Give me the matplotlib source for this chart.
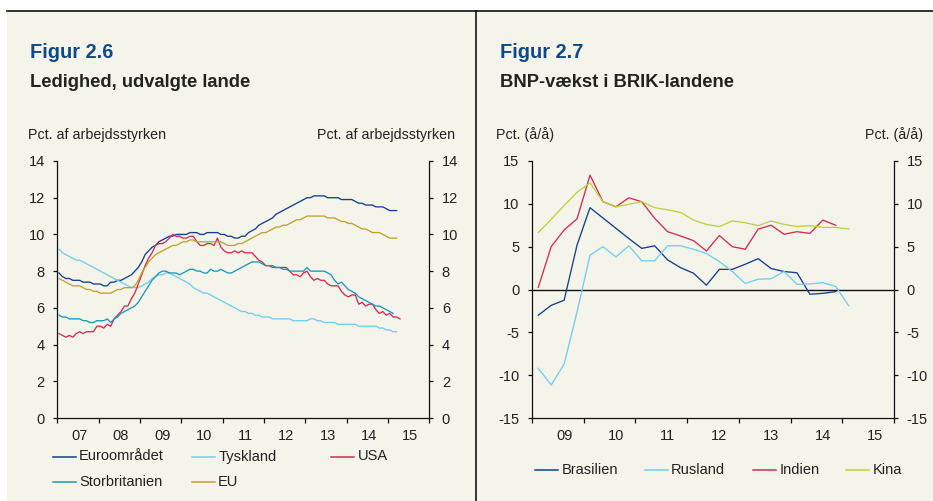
import matplotlib
matplotlib.use('Agg')
import matplotlib.pyplot as plt
from matplotlib.lines import Line2D
from matplotlib.patches import Rectangle

plt.rcParams['font.family'] = ['Liberation Sans', 'DejaVu Sans']
plt.rcParams['axes.unicode_minus'] = False

W, H = 933, 501
BG = '#f4f4ea'
TXT = '#222222'


def px(x):
    return x / W


def py(y):
    return 1 - y / H


# ---- Figur 2.6: ledighed, maanedlig fra jan 2007 ----
euro = [7.9, 7.7, 7.6, 7.6, 7.5, 7.5, 7.5, 7.4, 7.4, 7.4, 7.3, 7.3,
        7.3, 7.2, 7.2, 7.4, 7.4, 7.5, 7.5, 7.6, 7.7, 7.8, 8.0, 8.2,
        8.5, 8.9, 9.1, 9.3, 9.4, 9.6, 9.7, 9.8, 9.9, 9.9, 10.0, 10.0,
        10.0, 10.0, 10.1, 10.1, 10.1, 10.0, 10.0, 10.1, 10.1, 10.1, 10.1, 10.0,
        10.0, 9.9, 9.9, 9.8, 9.8, 9.9, 9.9, 10.1, 10.2, 10.3, 10.5, 10.6,
        10.7, 10.8, 10.9, 11.1, 11.2, 11.3, 11.4, 11.5, 11.6, 11.7, 11.8, 11.9,
        12.0, 12.0, 12.1, 12.1, 12.1, 12.1, 12.0, 12.0, 12.0, 12.0, 11.9, 11.9,
        11.9, 11.9, 11.8, 11.7, 11.7, 11.6, 11.6, 11.6, 11.5, 11.5, 11.5, 11.4,
        11.3, 11.3, 11.3]
tyskland = [9.2, 9.0, 8.9, 8.8, 8.7, 8.6, 8.6, 8.5, 8.4, 8.3, 8.2, 8.1,
            8.0, 7.9, 7.8, 7.7, 7.6, 7.5, 7.4, 7.3, 7.2, 7.1, 7.1, 7.1,
            7.2, 7.3, 7.4, 7.6, 7.7, 7.8, 7.8, 7.9, 7.9, 7.8, 7.7, 7.6,
            7.5, 7.4, 7.3, 7.1, 7.0, 6.9, 6.8, 6.8, 6.7, 6.6, 6.5, 6.4,
            6.3, 6.2, 6.1, 6.0, 5.9, 5.8, 5.8, 5.7, 5.7, 5.6, 5.6, 5.5,
            5.5, 5.5, 5.4, 5.4, 5.4, 5.4, 5.4, 5.4, 5.3, 5.3, 5.3, 5.3,
            5.3, 5.4, 5.4, 5.3, 5.3, 5.2, 5.2, 5.2, 5.2, 5.1, 5.1, 5.1,
            5.1, 5.1, 5.1, 5.0, 5.0, 5.0, 5.0, 5.0, 5.0, 4.9, 4.9, 4.8,
            4.8, 4.7, 4.7]
usa = [4.6, 4.5, 4.4, 4.5, 4.4, 4.6, 4.7, 4.6, 4.7, 4.7, 4.7, 5.0,
       5.0, 4.9, 5.1, 5.0, 5.4, 5.6, 5.8, 6.1, 6.1, 6.5, 6.8, 7.3,
       7.8, 8.3, 8.7, 9.0, 9.4, 9.5, 9.5, 9.6, 9.8, 10.0, 9.9, 9.9,
       9.8, 9.8, 9.9, 9.9, 9.6, 9.4, 9.4, 9.5, 9.5, 9.4, 9.8, 9.3,
       9.1, 9.0, 9.0, 9.1, 9.0, 9.1, 9.0, 9.0, 9.0, 8.8, 8.6, 8.5,
       8.3, 8.3, 8.2, 8.2, 8.2, 8.2, 8.2, 8.0, 7.8, 7.8, 7.7, 7.9,
       8.0, 7.7, 7.5, 7.6, 7.5, 7.5, 7.3, 7.2, 7.2, 7.2, 6.9, 6.7,
       6.6, 6.7, 6.7, 6.2, 6.3, 6.1, 6.2, 6.2, 5.9, 5.7, 5.8, 5.6,
       5.7, 5.5, 5.5, 5.4]
storbritanien = [5.6, 5.5, 5.5, 5.4, 5.4, 5.4, 5.4, 5.3, 5.3, 5.2, 5.2, 5.3,
                 5.3, 5.3, 5.4, 5.2, 5.4, 5.5, 5.7, 5.8, 5.9, 6.0, 6.1, 6.3,
                 6.6, 6.9, 7.2, 7.5, 7.7, 7.9, 8.0, 8.0, 7.9, 7.9, 7.9, 7.8,
                 7.9, 8.0, 8.1, 8.1, 8.0, 8.0, 7.9, 7.9, 8.1, 8.0, 8.0, 8.1,
                 8.0, 7.9, 7.9, 8.0, 8.1, 8.2, 8.3, 8.4, 8.5, 8.5, 8.5, 8.4,
                 8.3, 8.3, 8.3, 8.2, 8.2, 8.1, 8.1, 8.0, 8.0, 8.0, 8.0, 8.0,
                 8.2, 8.0, 8.0, 8.0, 8.0, 8.0, 7.9, 7.8, 7.5, 7.3, 7.4, 7.2,
                 7.0, 6.9, 6.8, 6.6, 6.5, 6.4, 6.3, 6.2, 6.1, 6.1, 6.0, 5.9,
                 5.8, 5.7]
eu = [7.6, 7.5, 7.4, 7.3, 7.2, 7.2, 7.2, 7.1, 7.0, 7.0, 6.9, 6.9,
      6.8, 6.8, 6.8, 6.8, 6.9, 7.0, 7.0, 7.1, 7.1, 7.1, 7.2, 7.5,
      7.9, 8.2, 8.5, 8.7, 8.9, 9.0, 9.1, 9.2, 9.3, 9.4, 9.4, 9.5,
      9.6, 9.6, 9.7, 9.7, 9.6, 9.6, 9.6, 9.6, 9.6, 9.6, 9.6, 9.6,
      9.5, 9.4, 9.4, 9.4, 9.5, 9.5, 9.6, 9.7, 9.8, 9.9, 10.0, 10.1,
      10.1, 10.2, 10.3, 10.4, 10.4, 10.5, 10.5, 10.6, 10.7, 10.8, 10.8, 10.9,
      11.0, 11.0, 11.0, 11.0, 11.0, 11.0, 10.9, 10.9, 10.9, 10.8, 10.7, 10.7,
      10.6, 10.6, 10.5, 10.4, 10.3, 10.3, 10.2, 10.1, 10.1, 10.1, 10.0, 9.9,
      9.8, 9.8, 9.8]

left_names = ['Euroområdet', 'Tyskland', 'USA', 'Storbritanien', 'EU']
left_series = [euro, tyskland, usa, storbritanien, eu]
left_colors = ['#143f8a', '#72cdef', '#d42a52', '#1b98b9', '#bfa22c']
left_years = ['07', '08', '09', '10', '11', '12', '13', '14', '15']

# ---- Figur 2.7: BNP-vaekst, kvartalsvis fra 1. kvt. 2009 ----
brasilien = [-3.0, -1.85, -1.25, 5.2, 9.55, 8.35, 7.15, 5.95, 4.8, 5.1, 3.45, 2.55,
             1.9, 0.5, 2.35, 2.35, 2.95, 3.6, 2.45, 2.1, 1.95, -0.55, -0.45, -0.25]
rusland = [-9.2, -11.15, -8.7, -2.6, 4.0, 5.0, 3.8, 5.1, 3.35, 3.35, 5.1, 5.1,
           4.7, 4.2, 3.25, 2.1, 0.7, 1.2, 1.25, 2.1, 0.6, 0.65, 0.8, 0.35, -1.9]
indien = [0.25, 5.0, 6.95, 8.25, 13.35, 10.25, 9.65, 10.7, 10.25, 8.3, 6.75, 6.25,
          5.7, 4.5, 6.3, 5.0, 4.7, 7.05, 7.5, 6.45, 6.75, 6.55, 8.1, 7.5]
kina = [6.65, 8.2, 9.8, 11.35, 12.45, 10.25, 9.65, 9.95, 10.25, 9.55, 9.3, 9.0,
        8.1, 7.6, 7.35, 8.0, 7.8, 7.45, 8.0, 7.6, 7.35, 7.45, 7.25, 7.25, 7.05]

right_names = ['Brasilien', 'Rusland', 'Indien', 'Kina']
right_series = [brasilien, rusland, indien, kina]
right_colors = ['#143f8a', '#72cdef', '#d42a52', '#b9d33f']
right_years = ['09', '10', '11', '12', '13', '14', '15']

fig = plt.figure(figsize=(W / 100, H / 100), dpi=100, facecolor='white')
fig.add_artist(Rectangle((px(7), 0), 1 - px(7), py(11), transform=fig.transFigure,
                         facecolor=BG, edgecolor='none', zorder=-10))
fig.add_artist(Line2D([px(7), 1], [py(11), py(11)], transform=fig.transFigure,
                      color='#111111', lw=1.2))
fig.add_artist(Line2D([px(476), px(476)], [py(11), 0], transform=fig.transFigure,
                      color='#111111', lw=1.2))


def style_axes(ax):
    ax.set_facecolor('none')
    ax.spines['top'].set_visible(False)
    for s in ['left', 'right', 'bottom']:
        ax.spines[s].set_color('#111111')
        ax.spines[s].set_linewidth(0.9)
    ax.tick_params(axis='y', which='major', direction='out', length=3, width=0.9,
                   left=True, right=True, labelleft=True, labelright=True,
                   labelsize=10.5, labelcolor=TXT, pad=6, color='#111111')
    ax.tick_params(axis='x', which='major', direction='out', length=3.5, width=0.9,
                   labelbottom=False, color='#111111')
    ax.tick_params(axis='x', which='minor', length=0, labelsize=10.5,
                   labelcolor=TXT, pad=8)


# left chart
ax1 = fig.add_axes([px(57.3), py(418), px(429.3) - px(57.3), py(161) - py(418)])
style_axes(ax1)
for vals, col in zip(left_series, left_colors):
    ax1.plot(range(len(vals)), vals, color=col, lw=0.95)
ax1.set_xlim(-0.5, 107.5)
ax1.set_ylim(0, 14)
ax1.set_yticks(range(0, 15, 2))
ax1.set_xticks([-0.5 + 12 * k for k in range(10)])
ax1.set_xticks([6 + 12 * k for k in range(len(left_years))], minor=True)
ax1.set_xticklabels(left_years, minor=True)

# right chart
ax2 = fig.add_axes([px(531.8), py(418), px(894) - px(531.8), py(161) - py(418)])
style_axes(ax2)
ax2.axhline(0, color='#111111', lw=1.0, zorder=1)
for vals, col in zip(right_series, right_colors):
    ax2.plot(range(len(vals)), vals, color=col, lw=0.95, zorder=2)
ax2.set_xlim(-0.5, 27.5)
ax2.set_ylim(-15, 15)
ax2.set_yticks(range(-15, 16, 5))
ax2.set_xticks([-0.5 + 4 * k for k in range(8)])
ax2.set_xticks([2 + 4 * k for k in range(len(right_years))], minor=True)
ax2.set_xticklabels(right_years, minor=True)

# titles and unit labels
title_blue = '#10488c'
fig.text(px(30), py(53), 'Figur 2.6', color=title_blue, fontsize=14.4,
         fontweight='bold', va='center', ha='left')
fig.text(px(30), py(83), 'Ledighed, udvalgte lande', color=TXT, fontsize=13.2,
         fontweight='bold', va='center', ha='left')
fig.text(px(500), py(53), 'Figur 2.7', color=title_blue, fontsize=14.4,
         fontweight='bold', va='center', ha='left')
fig.text(px(500), py(83), 'BNP-vækst i BRIK-landene', color=TXT, fontsize=13.2,
         fontweight='bold', va='center', ha='left')

fig.text(px(27.5), py(135), 'Pct. af arbejdsstyrken', color=TXT, fontsize=10.3,
         va='center', ha='left')
fig.text(px(455), py(135), 'Pct. af arbejdsstyrken', color=TXT, fontsize=10.3,
         va='center', ha='right')
fig.text(px(496.5), py(135), 'Pct. (å/å)', color=TXT, fontsize=10.3,
         va='center', ha='left')
fig.text(px(923.5), py(135), 'Pct. (å/å)', color=TXT, fontsize=10.3,
         va='center', ha='right')


def legend_entry(x, y, name, col):
    fig.add_artist(Line2D([px(x), px(x + 23)], [py(y), py(y)],
                          transform=fig.transFigure, color=col, lw=1.1))
    fig.text(px(x + 26.5), py(y), name, color=TXT, fontsize=10.5,
             va='center', ha='left')


left_pos = [(52.7, 456.5), (191.7, 456.5), (331, 456.5), (52.7, 482), (191.7, 482)]
for (x, y), name, col in zip(left_pos, left_names, left_colors):
    legend_entry(x, y, name, col)

right_pos = [(535, 470), (644.5, 470), (752.7, 470), (846, 470)]
for (x, y), name, col in zip(right_pos, right_names, right_colors):
    legend_entry(x, y, name, col)

fig.savefig('out.png', dpi=100, facecolor=fig.get_facecolor())
